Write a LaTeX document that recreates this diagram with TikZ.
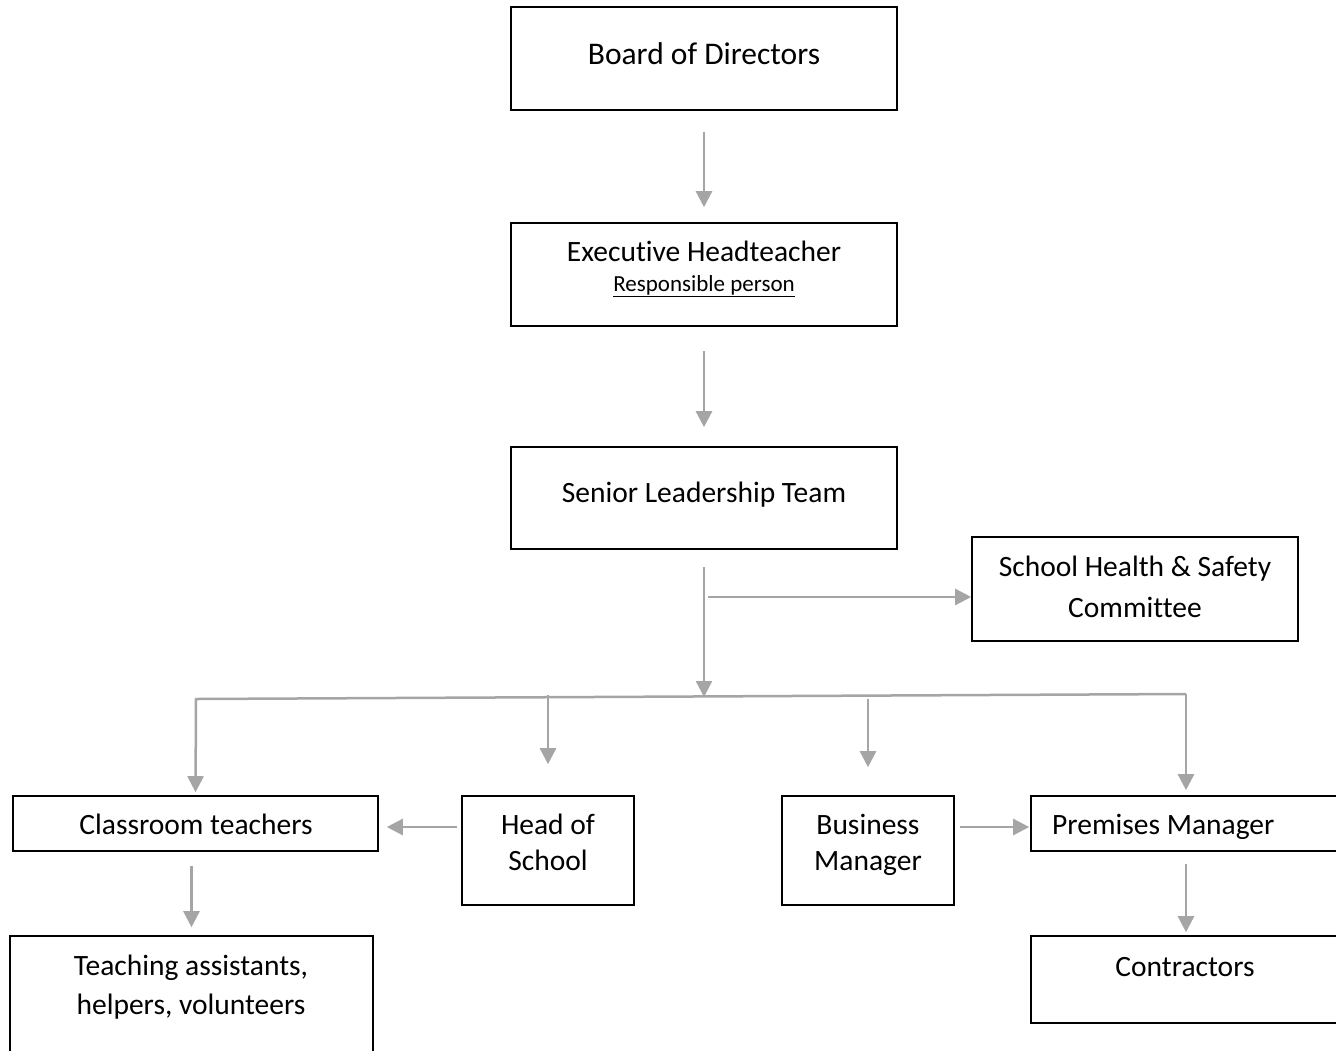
\documentclass[tikz,border=0pt]{standalone}
\usepackage{fontspec}
\setmainfont{Carlito}[Ligatures=NoCommon]
\usetikzlibrary{arrows.meta}
\definecolor{arrowgray}{HTML}{A5A5A5}
\begin{document}
\begin{tikzpicture}[x=1pt,y=-1pt,
  box/.style={draw=black, line width=1.6pt, inner sep=0pt, minimum width=#1},
  lbl/.style={inner sep=0pt, anchor=base, font=\fontsize{29.5}{36}\selectfont},
  big/.style={inner sep=0pt, anchor=base, font=\fontsize{31.5}{38}\selectfont},
  small/.style={inner sep=0pt, anchor=base, font=\fontsize{23}{28}\selectfont},
  conn/.style={draw=arrowgray, line width=2.5pt, -{Triangle[width=16pt,length=16pt]}},
  busline/.style={draw=arrowgray, line width=2.5pt}]
\useasboundingbox (0,0) rectangle (1336,1050);

% boxes
\node[box=386pt, minimum height=103pt] (board) at (704,58.5) {};
\node[box=386pt, minimum height=103pt] (exec) at (704,274.5) {};
\node[box=386pt, minimum height=102pt] (slt) at (704,498) {};
\node[box=326pt, minimum height=104pt] (shs) at (1135,589) {};
\node[box=365pt, minimum height=55pt] (class) at (195.5,823.5) {};
\node[box=172pt, minimum height=109pt] (head) at (548,850.5) {};
\node[box=172pt, minimum height=109pt] (bm) at (868,850.5) {};
\node[box=310pt, minimum height=55pt] (prem) at (1186,823.5) {};
\node[box=363pt, minimum height=130pt] (teach) at (191.5,1001) {};
\node[box=310pt, minimum height=87pt] (cont) at (1186,979.5) {};

% texts
\node[big] (board-t) at (704,64) {Board of Directors};
\node[lbl] (exec-t) at (704,261) {Executive Headteacher};
\node[small] (exec-s) at (704,291) {\underline{Responsible person}};
\node[lbl] (slt-t) at (704,502) {Senior Leadership Team};
\node[lbl] (shs-t1) at (1135,576) {School Health \& Safety};
\node[lbl] (shs-t2) at (1135,617) {Committee};
\node[lbl] (class-t) at (196,834) {Classroom teachers};
\node[lbl] (head-t1) at (548,834) {Head of};
\node[lbl] (head-t2) at (548,870) {School};
\node[lbl] (bm-t1) at (868,834) {Business};
\node[lbl] (bm-t2) at (868,870) {Manager};
\node[lbl, anchor=base west] (prem-t) at (1052,834) {Premises Manager};
\node[lbl] (teach-t1) at (191,975) {Teaching assistants,};
\node[lbl] (teach-t2) at (191,1014) {helpers, volunteers};
\node[lbl] (cont-t) at (1185,976) {Contractors};

% helper coordinates
\coordinate (hub) at (704,697);
\coordinate (shsfrom) at (708,597);
\coordinate (busL) at (196,699);
\coordinate (busR) at (1186,694);
\coordinate (headfrom) at (548,695);
\coordinate (bmfrom) at (868,699);
\coordinate (hcfrom) at (457,827);
\coordinate (bpfrom) at (960,827);

% connectors
\draw[conn, shorten <=21pt, shorten >=15pt] (board) -- (exec);
\draw[conn, shorten <=24pt, shorten >=19pt] (exec) -- (slt);
\draw[conn, shorten <=17pt] (slt.south) -- (hub);
\draw[conn] (shsfrom) -- (shsfrom -| shs.west);
\draw[conn, shorten >=3pt] (busR) -- (busL) -- (class.north);
\draw[conn, shorten >=5pt] (busR) -- (prem.north);
\draw[conn, shorten >=31pt] (headfrom) -- (head.north);
\draw[conn, shorten >=28pt] (bmfrom) -- (bm.north);
\draw[conn, shorten >=8pt] (hcfrom) -- (hcfrom -| class.east);
\draw[conn, shorten >=1pt] (bpfrom) -- (bpfrom -| prem.west);
\draw[conn, shorten <=14pt, shorten >=8pt] (teach.north |- class.south) -- (teach.north);
\draw[conn, shorten <=12pt, shorten >=3pt] (prem.south) -- (cont.north);
\end{tikzpicture}
\end{document}
